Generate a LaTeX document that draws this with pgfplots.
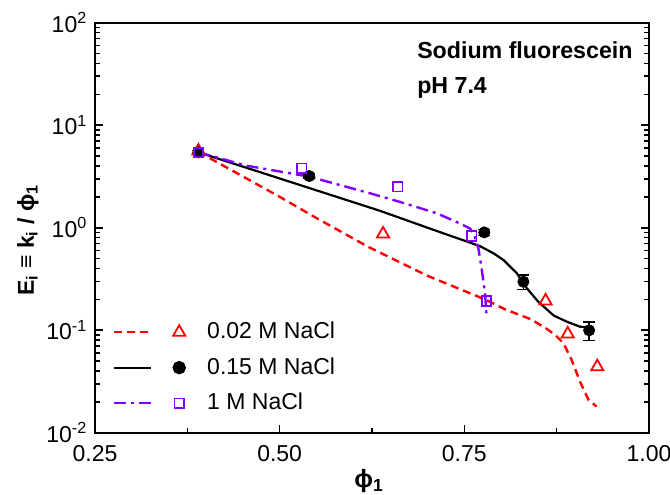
\documentclass[border=0pt]{standalone}
\usepackage{fontspec}
\setmainfont{Liberation Sans}
\usepackage{pgfplots}
\pgfplotsset{compat=1.18}
\definecolor{vio}{RGB}{128,0,255}
\begin{document}
\fontsize{11}{13}\selectfont
\begin{tikzpicture}
\useasboundingbox (-47.5pt,-30.65pt) rectangle (287.5pt,216.35pt);
\begin{axis}[
  at={(0pt,0pt)}, anchor=south west, scale only axis,
  width=277pt, height=205pt,
  ymode=log, xmin=0.25, xmax=1.0, ymin=0.01, ymax=100,
  axis line style={line width=1pt},
  xtick={0.25,0.5,0.75,1}, xticklabels={0.25,0.50,0.75,1.00},
  minor xtick={0.375,0.625,0.875},
  ytick={0.01,0.1,1,10,100},
  yticklabels={10\textsuperscript{-2},10\textsuperscript{-1},10\textsuperscript{0},10\textsuperscript{1},10\textsuperscript{2}},
  minor ytick={0.02,0.03,0.04,0.05,0.06,0.07,0.08,0.09,0.2,0.3,0.4,0.5,0.6,0.7,0.8,0.9,2,3,4,5,6,7,8,9,20,30,40,50,60,70,80,90},
  xtick pos=bottom, ytick pos=both, tick align=inside,
  major tick length=4pt, minor tick length=2.5pt,
  tick style={line width=0.8pt, black},
  ticklabel style={font=\fontsize{11.5}{13}\selectfont},
  xticklabel style={yshift=-2.5pt},
  xlabel={\textbf{ϕ\textsubscript{1}}},
  ylabel={\textbf{E\textsubscript{i} ≡ k\textsubscript{i} / ϕ\textsubscript{1}}},
  every axis x label/.style={at={(axis description cs:0.495,-0.147)}, anchor=south, inner sep=0pt, font=\fontsize{12.5}{14}\selectfont},
  every axis y label/.style={at={(axis description cs:-0.121,0.47)}, rotate=90, anchor=center, inner sep=0pt, font=\fontsize{11.5}{14}\selectfont},
  legend style={draw=none, fill=none, at={(axis description cs:0.021,0.29)}, anchor=north west,
    font=\fontsize{11.5}{13}\selectfont, row sep=3.75pt},
  legend cell align=left,
]
% legend images
\addlegendimage{red, line width=1.2pt, dash pattern=on 4pt off 2.5pt, mark=triangle, mark size=3.5pt,
  mark options={solid, line width=0.9pt},
  legend image code/.code={\draw[mark=none] (0pt,0pt) -- (18.5pt,0pt); \draw plot coordinates {(32.5pt,0pt)}; \path[draw=none] (0pt,0pt) -- (44.5pt,0pt);}}
\addlegendentry{0.02 M NaCl}
\addlegendimage{black, line width=1.1pt, mark=*, mark size=2.8pt, mark options={solid},
  legend image code/.code={\draw[mark=none] (0pt,0pt) -- (18.5pt,0pt); \draw plot coordinates {(32.5pt,0pt)}; \path[draw=none] (0pt,0pt) -- (44.5pt,0pt);}}
\addlegendentry{0.15 M NaCl}
\addlegendimage{vio, line width=1.2pt, dash pattern=on 6pt off 2.5pt on 1.5pt off 2.5pt, mark=square, mark size=2.35pt,
  mark options={solid, line width=0.9pt},
  legend image code/.code={\draw[mark=none] (0pt,0pt) -- (18.5pt,0pt); \draw plot coordinates {(32.5pt,0pt)}; \path[draw=none] (0pt,0pt) -- (44.5pt,0pt);}}
\addlegendentry{1 M NaCl}

% fitted curves
\addplot[red, line width=1.2pt, dash pattern=on 4pt off 2.5pt, forget plot] coordinates {
(0.39,5.5) (0.41,4.57) (0.45,3.17) (0.50,2.0) (0.55,1.24) (0.62,0.65) (0.70,0.34)
(0.78,0.197) (0.805,0.160) (0.84,0.128) (0.86,0.105) (0.873,0.090) (0.884,0.075)
(0.895,0.052) (0.907,0.031) (0.918,0.021) (0.929,0.018)};
\addplot[black, line width=1.1pt, forget plot] coordinates {
(0.39,5.44) (0.54,2.44) (0.636,1.46) (0.72,0.89) (0.771,0.662) (0.79,0.56) (0.803,0.484)
(0.821,0.36) (0.834,0.26) (0.85,0.19) (0.871,0.139) (0.89,0.12) (0.907,0.108) (0.919,0.107)};
\addplot[vio, line width=1.2pt, dash pattern=on 6pt off 2.5pt on 1.5pt off 2.5pt, forget plot] coordinates {
(0.39,5.44) (0.455,4.03) (0.540,3.15) (0.623,2.16) (0.667,1.75) (0.713,1.38) (0.744,1.10)
(0.758,0.98) (0.764,0.82) (0.769,0.63) (0.773,0.42) (0.778,0.23) (0.780,0.141)};

% data points
\addplot[only marks, red, mark=triangle, mark size=3.5pt, mark options={line width=0.9pt}, forget plot] coordinates {
(0.390,5.6) (0.640,0.87) (0.860,0.193) (0.890,0.092) (0.930,0.044)};
\addplot[only marks, black, mark=*, mark size=2.8pt, forget plot,
  error bars/.cd, y dir=both, y explicit,
  error bar style={line width=0.8pt, black},
  error mark options={rotate=90, mark size=3pt, line width=0.8pt, black}]
  table[x=x, y=y, y error=e] {
x y e
0.390 5.44 0.25
0.540 3.19 0.15
0.777 0.90 0.06
0.830 0.297 0.047
0.919 0.0997 0.02
};
\addplot[only marks, vio, mark=square, mark size=2.35pt, mark options={line width=0.9pt}, forget plot] coordinates {
(0.390,5.44) (0.530,3.80) (0.660,2.51) (0.760,0.83) (0.780,0.193)};

\node[anchor=base west, inner sep=0pt, font=\bfseries\fontsize{11.6}{14}\selectfont] at (axis description cs:0.581,0.9127) {Sodium fluorescein};
\node[anchor=base west, inner sep=0pt, font=\bfseries\fontsize{11.6}{14}\selectfont] at (axis description cs:0.581,0.8273) {pH 7.4};
\end{axis}
\end{tikzpicture}
\end{document}
